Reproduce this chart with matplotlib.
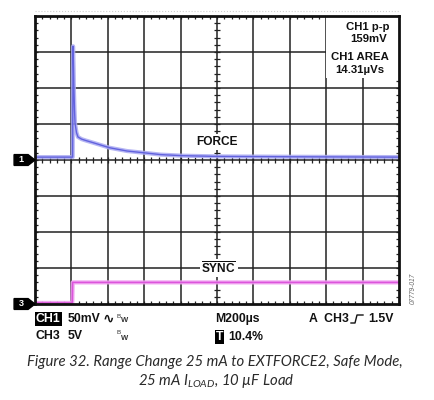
import matplotlib
matplotlib.use("Agg")
import matplotlib.pyplot as plt
from matplotlib.patches import Rectangle, Polygon
from matplotlib.lines import Line2D

# scope settings
ch1_scale_mv = 50.0     # mV/div
ch3_scale_v = 5.0       # V/div
time_div_us = 200.0     # us/div
n_xdiv = 10
n_ydiv = 8
ch1_ground_div = 4      # marker "1"
ch3_ground_div = 0      # marker "3"

# CH1 FORCE trace (time in us from left edge, value in mV above ground)
ch1_t = [0, 120, 207, 209, 212, 214, 217, 220, 228, 236, 256, 280, 320,
         410, 505, 600, 690, 810, 1000, 1400, 2000]
ch1_mv = [4, 4, 4, 158, 125, 97, 70, 51, 38, 32, 29, 27, 24,
          17, 12.5, 10, 7.5, 6, 5, 4.5, 4]

# CH3 SYNC trace (V)
ch3_t = [0, 205, 207, 2000]
ch3_v = [0.15, 0.15, 3.0, 3.0]

meas_lines = ["CH1 p-p", "159mV", "CH1 AREA", "14.31\u00b5Vs"]
caption1 = "Figure 32. Range Change 25 mA to EXTFORCE2, Safe Mode,"
caption2 = "25 mA $\\mathit{I}_{\\mathit{LOAD}}$, 10 \u00b5F Load"

cap_font = 'Lato'
plt.rcParams['mathtext.fontset'] = 'custom'
plt.rcParams['mathtext.it'] = cap_font + ':italic'
plt.rcParams['mathtext.rm'] = cap_font + ':italic'
plt.rcParams['mathtext.bf'] = 'Liberation Sans:bold'

W, H = 435, 400
fig = plt.figure(figsize=(W / 100, H / 100), dpi=100)
fig.patch.set_facecolor('white')

def fx(px):
    return px / W

def fy(py):
    return 1 - py / H

# plot area in pixels: x 35..399, y 16..304
ax = fig.add_axes([fx(35), fy(304), fx(399) - fx(35), fy(16) - fy(304)])
xmax = n_xdiv * time_div_us
ax.set_xlim(0, xmax)
ax.set_ylim(0, n_ydiv)
ax.set_xticks([])
ax.set_yticks([])
for s in ax.spines.values():
    s.set_linewidth(2.0)
    s.set_color('#111111')
    s.set_zorder(6)

# grid
gcol = '#222222'
for i in range(1, n_xdiv):
    ax.axvline(i * time_div_us, color=gcol, lw=1.1, zorder=1)
for j in range(1, n_ydiv):
    ax.axhline(j, color=gcol, lw=1.1, zorder=1)

# minor ticks on border and center axes
tl_y = 0.09
tl_x = tl_y * time_div_us * 36 / 36.4
xt = [k * time_div_us / 5 for k in range(1, n_xdiv * 5)]
yt = [k / 5 for k in range(1, n_ydiv * 5)]
ax.vlines(xt, 0, tl_y, color=gcol, lw=0.9, zorder=1)
ax.vlines(xt, n_ydiv - tl_y, n_ydiv, color=gcol, lw=0.9, zorder=1)
ax.vlines(xt, n_ydiv / 2 - tl_y, n_ydiv / 2 + tl_y, color=gcol, lw=0.9, zorder=1)
ax.hlines(yt, 0, tl_x, color=gcol, lw=0.9, zorder=1)
ax.hlines(yt, xmax - tl_x, xmax, color=gcol, lw=0.9, zorder=1)
ax.hlines(yt, xmax / 2 - tl_x, xmax / 2 + tl_x, color=gcol, lw=0.9, zorder=1)

# faint dotted line above the graticule
ax.axhline(n_ydiv + 0.14, color='#cfcfcf', lw=0.8, ls=':', clip_on=False, zorder=0)

# measurement box (white) in top right
ax.add_patch(Rectangle((1600, 6.28), 400, 1.72, facecolor='white',
                       edgecolor='none', zorder=2))

# traces
ch1_y = [ch1_ground_div + v / ch1_scale_mv for v in ch1_mv]
ch3_y = [ch3_ground_div + v / ch3_scale_v for v in ch3_v]
ax.plot(ch1_t, ch1_y, color='#aaaaf2', lw=3.0, alpha=0.85, zorder=3,
        solid_joinstyle='round')
ax.plot(ch1_t, ch1_y, color='#6262de', lw=1.0, zorder=3)
ax.plot(ch3_t, ch3_y, color='#f0a0f0', lw=3.0, alpha=0.9, zorder=3)
ax.plot(ch3_t, ch3_y, color='#dc55dc', lw=1.1, zorder=3)

lab = dict(family='Liberation Sans', weight='bold', fontsize=8.6, color='#111111')

# trace labels
ax.text(1000, 4.5, "FORCE", ha='center', va='center', zorder=4,
        bbox=dict(facecolor='white', edgecolor='none', pad=1.5), **lab)
ax.text(1010, 1.0, r"$\overline{\mathbf{SYNC}}$", ha='center', va='center',
        zorder=4, bbox=dict(facecolor='white', edgecolor='none', pad=1.0),
        fontsize=8.6, color='#111111')

# measurement readouts
mlab = dict(lab, fontsize=8.2)
for txt, px, py in zip(meas_lines, [368, 369, 360, 360], [27, 39, 57, 70]):
    fig.text(fx(px), fy(py), txt, ha='center', va='center', zorder=4, **mlab)

# channel ground markers
def marker(ydiv, txt):
    x0 = -115
    xb = -38
    h = 0.15
    ax.add_patch(Polygon([(x0, ydiv - h), (xb, ydiv - h), (0, ydiv),
                          (xb, ydiv + h), (x0, ydiv + h)], closed=True,
                         facecolor='black', edgecolor='black',
                         clip_on=False, zorder=7))
    ax.text((x0 + xb) / 2, ydiv, txt, color='white', ha='center', va='center',
            family='Liberation Sans', weight='bold', fontsize=6.5,
            clip_on=False, zorder=8)

marker(ch1_ground_div, "1")
marker(ch3_ground_div, "3")

# readout text below the graticule
bt = dict(family=['Liberation Sans', 'DejaVu Sans'], weight='bold',
          fontsize=8.8, color='#111111', va='center')
inv = {k: v for k, v in bt.items() if k != 'color'}
fig.text(fx(36), fy(319), "CH1", color='white',
         bbox=dict(facecolor='black', edgecolor='none', pad=0.6), **inv)
fig.text(fx(68), fy(319), "50mV", **bt)
fig.text(fx(103), fy(319), "\u223f", family='DejaVu Sans', weight='bold',
         fontsize=10, color='#111111', va='center')
fig.text(fx(36), fy(336), "CH3", **bt)
fig.text(fx(68), fy(336), "5V", **bt)
for yy in (319, 336):
    fig.text(fx(117), fy(yy - 3), "B", family='Liberation Sans', fontsize=4.5,
             color='#333333', va='center')
    fig.text(fx(121), fy(yy + 2), "W", family='Liberation Sans', fontsize=5.5,
             weight='bold', color='#333333', va='center')

fig.text(fx(215), fy(319), "M200\u00b5s", **bt)
fig.text(fx(216), fy(337), "T", color='white',
         bbox=dict(facecolor='black', edgecolor='none', pad=0.6), **inv)
fig.text(fx(228), fy(337), "10.4%", **bt)
fig.text(fx(309), fy(319), "A  CH3", **bt)
fig.text(fx(368), fy(319), "1.5V", **bt)
# rising-edge trigger symbol
fig.add_artist(Line2D([fx(351), fx(355), fx(357), fx(363)],
                      [fy(323), fy(323), fy(315), fy(315)],
                      color='#111111', lw=1.0))

# figure id, rotated
fig.text(fx(413), fy(288), "07779-017", rotation=90, ha='center', va='center',
         family='Liberation Sans', style='italic', fontsize=4.8, color='#666666')

# caption, size fitted to the reference line width (~374 px)
cap = dict(family=cap_font, style='italic', fontsize=11.0,
           color='#2a2a2a', ha='center', va='center')
t1 = fig.text(fx(215), fy(362), caption1, **cap)
t2 = fig.text(fx(216), fy(381), caption2, **cap)
fig.canvas.draw()
w1 = t1.get_window_extent(fig.canvas.get_renderer()).width
scale = 374.0 / w1
t1.set_fontsize(11.0 * scale)
t2.set_fontsize(11.0 * scale)

fig.savefig("out.png", dpi=100, facecolor='white')
